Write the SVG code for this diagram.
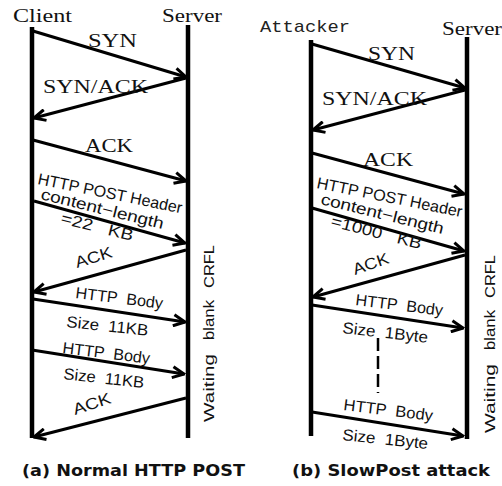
<svg xmlns="http://www.w3.org/2000/svg" width="502" height="486" viewBox="0 0 502 486">
<style>
.life{stroke:#000;stroke-width:4.5;fill:none}
.arr{stroke:#000;stroke-width:3;fill:none;marker-end:url(#ah)}
.serif{font-family:"Liberation Serif","Times New Roman",serif;font-size:19px;fill:#111}
.mono{font-family:"Liberation Mono","Courier New",monospace;font-size:17px;fill:#222}
.sans{font-family:"Liberation Sans",Arial,sans-serif;font-size:16px;fill:#111}
.side{font-family:"Liberation Sans",Arial,sans-serif;font-size:14px;fill:#111}
.cap{font-family:"DejaVu Sans",Verdana,sans-serif;font-size:15px;font-weight:bold;fill:#111}
</style>
<defs>
<marker id="ah" viewBox="0 0 14 14" refX="12.5" refY="7" markerWidth="14" markerHeight="14" markerUnits="userSpaceOnUse" orient="auto">
<path d="M1,1.5 L12.5,7 L1,12.5" fill="none" stroke="#000" stroke-width="3"/>
</marker>
</defs>
<rect width="502" height="486" fill="#fff"/>

<g id="client">
<text class="serif" x="13" y="22" textLength="59" lengthAdjust="spacingAndGlyphs">Client</text>
<line class="life" x1="32" y1="27" x2="32" y2="438"/>
</g>
<g id="server-a">
<text class="serif" x="162" y="22" textLength="60" lengthAdjust="spacingAndGlyphs">Server</text>
<line class="life" x1="188" y1="25" x2="188" y2="438"/>
</g>
<g id="attacker">
<text class="mono" x="260" y="32" textLength="90" lengthAdjust="spacingAndGlyphs">Attacker</text>
<line class="life" x1="311" y1="40" x2="311" y2="436"/>
</g>
<g id="server-b">
<text class="serif" x="442" y="35" textLength="60" lengthAdjust="spacingAndGlyphs">Server</text>
<line class="life" x1="467" y1="37" x2="467" y2="439"/>
</g>

<g id="connectors">
<path class="arr" d="M33,31 L186,77"/>
<path class="arr" d="M186,78 L34,118"/>
<path class="arr" d="M33,140 L186,181"/>
<path class="arr" d="M34,201 L185,243"/>
<path class="arr" d="M186,250 L34,292"/>
<path class="arr" d="M33,299 L185,322"/>
<path class="arr" d="M32,350 L184,374"/>
<path class="arr" d="M186,398 L34,437"/>

<path class="arr" d="M312,44 L465,88"/>
<path class="arr" d="M465,90 L313,130"/>
<path class="arr" d="M312,153 L464,194"/>
<path class="arr" d="M312,208 L464,251"/>
<path class="arr" d="M465,255 L313,297"/>
<path class="arr" d="M312,305 L463,328"/>
<path d="M378,338 L378,393" stroke="#000" stroke-width="2.5" stroke-dasharray="13,5" fill="none"/>
<path class="arr" d="M312,412 L463,436"/>
</g>

<g id="labels-a">
<text class="serif" x="88" y="47" textLength="49" lengthAdjust="spacingAndGlyphs">SYN</text>
<text class="serif" x="43" y="93" textLength="105" lengthAdjust="spacingAndGlyphs">SYN/ACK</text>
<text class="serif" x="85" y="152" textLength="48" lengthAdjust="spacingAndGlyphs">ACK</text>
<text class="sans" transform="translate(37,184) rotate(11.5)" textLength="147" lengthAdjust="spacingAndGlyphs">HTTP POST Header</text>
<text class="sans" transform="translate(40,199) rotate(13.8)" textLength="126" lengthAdjust="spacingAndGlyphs">content−length</text>
<text class="sans" xml:space="preserve" transform="translate(60,223) rotate(14)" textLength="74" lengthAdjust="spacingAndGlyphs">=22   KB</text>
<text class="sans" transform="translate(77,268) rotate(-17)" textLength="38" lengthAdjust="spacingAndGlyphs">ACK</text>
<text class="sans" xml:space="preserve" transform="translate(75,298) rotate(7)" textLength="88" lengthAdjust="spacingAndGlyphs">HTTP  Body</text>
<text class="sans" xml:space="preserve" transform="translate(66,327) rotate(6)" textLength="82" lengthAdjust="spacingAndGlyphs">Size  11KB</text>
<text class="sans" xml:space="preserve" transform="translate(62,353) rotate(7)" textLength="88" lengthAdjust="spacingAndGlyphs">HTTP  Body</text>
<text class="sans" xml:space="preserve" transform="translate(63,379) rotate(6.4)" textLength="81" lengthAdjust="spacingAndGlyphs">Size  11KB</text>
<text class="sans" transform="translate(75,415) rotate(-18)" textLength="39" lengthAdjust="spacingAndGlyphs">ACK</text>
<g transform="translate(214,422) rotate(-90)">
<text class="side" x="0" y="0" textLength="68" lengthAdjust="spacingAndGlyphs">Waiting</text>
<text class="side" x="82" y="0" textLength="40" lengthAdjust="spacingAndGlyphs">blank</text>
<text class="side" x="134" y="0" textLength="43" lengthAdjust="spacingAndGlyphs">CRFL</text>
</g>
<text class="cap" x="22" y="476" textLength="223" lengthAdjust="spacingAndGlyphs">(a) Normal HTTP POST</text>
</g>

<g id="labels-b">
<text class="serif" x="368" y="60" textLength="47" lengthAdjust="spacingAndGlyphs">SYN</text>
<text class="serif" x="322" y="105" textLength="105" lengthAdjust="spacingAndGlyphs">SYN/ACK</text>
<text class="serif" x="363" y="166" textLength="50" lengthAdjust="spacingAndGlyphs">ACK</text>
<text class="sans" transform="translate(316,188) rotate(11.3)" textLength="148" lengthAdjust="spacingAndGlyphs">HTTP POST Header</text>
<text class="sans" transform="translate(320,204) rotate(13.8)" textLength="126" lengthAdjust="spacingAndGlyphs">content−length</text>
<text class="sans" xml:space="preserve" transform="translate(330,226) rotate(14.3)" textLength="93" lengthAdjust="spacingAndGlyphs">=1000   KB</text>
<text class="sans" transform="translate(355,275) rotate(-19)" textLength="37" lengthAdjust="spacingAndGlyphs">ACK</text>
<text class="sans" xml:space="preserve" transform="translate(355,305) rotate(7)" textLength="88" lengthAdjust="spacingAndGlyphs">HTTP  Body</text>
<text class="sans" xml:space="preserve" transform="translate(342,333) rotate(6.5)" textLength="86" lengthAdjust="spacingAndGlyphs">Size  1Byte</text>
<text class="sans" xml:space="preserve" transform="translate(343,410) rotate(7)" textLength="90" lengthAdjust="spacingAndGlyphs">HTTP  Body</text>
<text class="sans" xml:space="preserve" transform="translate(342,440) rotate(6)" textLength="86" lengthAdjust="spacingAndGlyphs">Size  1Byte</text>
<g transform="translate(495,433) rotate(-90)">
<text class="side" x="0" y="0" textLength="69" lengthAdjust="spacingAndGlyphs">Waiting</text>
<text class="side" x="83" y="0" textLength="40" lengthAdjust="spacingAndGlyphs">blank</text>
<text class="side" x="135" y="0" textLength="43" lengthAdjust="spacingAndGlyphs">CRFL</text>
</g>
<text class="cap" x="292" y="476" textLength="198" lengthAdjust="spacingAndGlyphs">(b) SlowPost attack</text>
</g>
</svg>
